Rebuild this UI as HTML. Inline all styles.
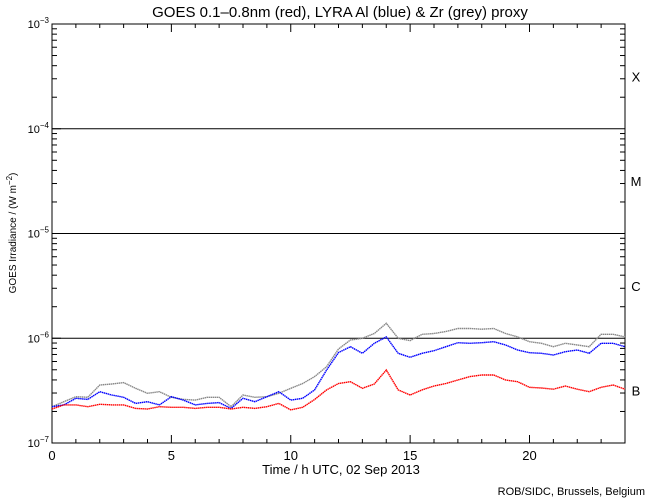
<!DOCTYPE html>
<html><head><meta charset="utf-8"><style>
html,body{margin:0;padding:0;background:#fff;}
svg{display:block;font-family:"Liberation Sans",sans-serif;}
</style></head><body>
<svg id="c" width="650" height="500" viewBox="0 0 650 500">
<text x="340" y="17" font-size="15" text-anchor="middle">GOES 0.1–0.8nm (red), LYRA Al (blue) &amp; Zr (grey) proxy</text>
<text x="341" y="474" font-size="13" text-anchor="middle">Time / h UTC, 02 Sep 2013</text>
<text x="16" y="233" font-size="10" text-anchor="middle" transform="rotate(-90 16 233)">GOES Irradiance / (W m<tspan dy="-4" font-size="8">−2</tspan><tspan dy="4">)</tspan></text>
<text x="645" y="495" font-size="11" text-anchor="end">ROB/SIDC, Brussels, Belgium</text>
<g id="axes"></g>
<g id="series"></g>
</svg>
<script>
const hours = [0,0.5,1,1.5,2,2.5,3,3.5,4,4.5,5,5.5,6,6.5,7,7.5,8,8.5,9,9.5,10,10.5,11,11.5,12,12.5,13,13.5,14,14.5,15,15.5,16,16.5,17,17.5,18,18.5,19,19.5,20,20.5,21,21.5,22,22.5,23,23.5,24];
// values in units of 1e-7 W m^-2
const goesRed = [2.11,2.31,2.31,2.22,2.34,2.31,2.31,2.14,2.11,2.22,2.19,2.19,2.14,2.19,2.19,2.11,2.19,2.14,2.22,2.39,2.07,2.19,2.6,3.21,3.7,3.85,3.33,3.66,4.98,3.21,2.87,3.21,3.5,3.7,3.99,4.3,4.46,4.46,3.99,3.85,3.4,3.35,3.26,3.5,3.26,3.09,3.4,3.58,3.26];
const lyraAl = [2.22,2.31,2.67,2.61,3.09,2.87,2.73,2.39,2.48,2.31,2.77,2.57,2.31,2.39,2.43,2.14,2.67,2.48,2.77,3.09,2.57,2.67,3.21,4.98,7.3,8.3,7.18,8.95,10.3,7.18,6.58,7.18,7.6,8.3,9.06,8.95,9.06,9.27,8.62,7.72,7.28,7.18,6.92,7.44,7.72,7.18,8.95,8.95,8.3];
const lyraZr = [2.22,2.48,2.77,2.73,3.58,3.66,3.77,3.33,2.98,3.09,2.73,2.61,2.57,2.73,2.73,2.22,2.87,2.73,2.77,2.98,3.33,3.7,4.3,5.35,7.9,9.62,9.98,11.1,13.9,10.0,9.5,10.9,11.1,11.6,12.4,12.4,12.2,12.4,11.1,10.3,9.27,8.95,8.3,8.95,8.62,8.3,10.9,10.9,10.3];
const xTicks = [0,5,10,15,20];
const yDecades = [-7,-6,-5,-4,-3];
const classLabels = ["B","C","M","X"];

const NS="http://www.w3.org/2000/svg";
const L=52,R=625,T=24,B=443;
const xs=h=>L+(R-L)*h/24;
const ys=lg=>B-(B-T)*(lg+7)/4;
const yv=v=>ys(Math.log10(v*1e-7));
function mk(tag,attrs,parent){const e=document.createElementNS(NS,tag);for(const k in attrs)e.setAttribute(k,attrs[k]);parent.appendChild(e);return e;}
const ax=document.getElementById('axes');
let frame=mk('rect',{x:L,y:T,width:R-L,height:B-T,fill:'none',stroke:'#000','stroke-width':1},ax);


for(let h=0;h<=24;h++){
  const len=(h%5===0)?8:4;
  const x=xs(h);
  let t1=mk('line',{x1:x,x2:x,y1:B,y2:B-len,stroke:'#000'},ax);
  
  
  let t2=mk('line',{x1:x,x2:x,y1:T,y2:T+len,stroke:'#000'},ax);
  
  
}
xTicks.forEach(h=>{
  let t=mk('text',{x:xs(h),y:B+17,'font-size':13,'text-anchor':'middle'},ax);
  t.textContent=h;
  
  
});
yDecades.forEach((d,i)=>{
  const y=ys(d);
  if(i>0&&i<yDecades.length-1){
    let g=mk('line',{x1:L,x2:R,y1:y,y2:y,stroke:'#000','stroke-width':1},ax);
    
    
  }
  let lab=mk('text',{x:L-3,y:y+4,'font-size':11,'text-anchor':'end'},ax);
  lab.innerHTML='10<tspan dy="-5" font-size="8">'+(d===-7?'−7':'−'+(-d))+'</tspan>';
  
  
  if(i<yDecades.length-1){
    for(let m=2;m<=9;m++){
      const yy=ys(d+Math.log10(m));
      let a=mk('line',{x1:L,x2:L+5,y1:yy,y2:yy,stroke:'#000'},ax);
      
      
      let b=mk('line',{x1:R,x2:R-5,y1:yy,y2:yy,stroke:'#000'},ax);
      
      
    }
  }
  let mj=mk('line',{x1:L,x2:L+9,y1:y,y2:y,stroke:'#000'},ax);
  
  
});
classLabels.forEach((c,i)=>{
  const y=ys(-7+i+0.5);
  let t=mk('text',{x:636,y:y+5,'font-size':13,'text-anchor':'middle'},ax);
  t.textContent=c;
  
  
});
const sg=document.getElementById('series');
[[lyraZr,'#888','zr-proxy-series'],[lyraAl,'#0000ff','al-proxy-series'],[goesRed,'#ff0000','goes-series']].forEach(([vals,col,name])=>{
  const pts=vals.map((v,i)=>xs(hours[i]).toFixed(1)+','+yv(v).toFixed(1)).join(' ');
  let p=mk('polyline',{points:pts,fill:'none',stroke:col,'stroke-width':1.4,'stroke-dasharray':'1.5 0.5'},sg);
  
  
});
</script>
</body></html>
